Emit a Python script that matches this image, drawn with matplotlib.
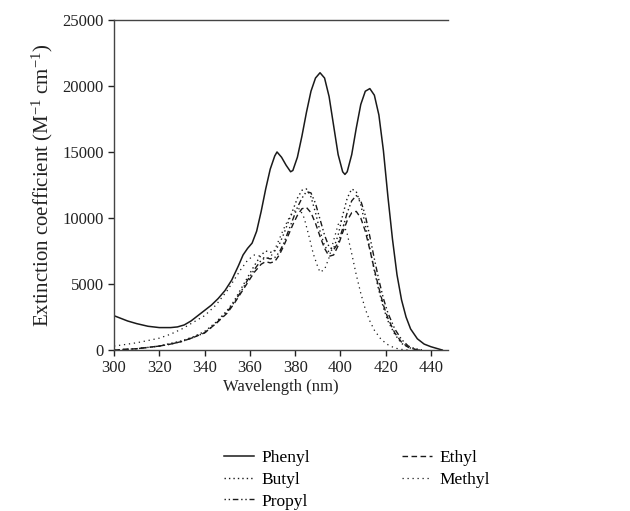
import matplotlib
matplotlib.use("Agg")
import matplotlib.pyplot as plt

plt.rcParams['font.family'] = ['Liberation Serif', 'DejaVu Serif']
plt.rcParams['mathtext.default'] = 'regular'

wl_phenyl = [300, 303, 306, 310, 315, 320, 325, 328, 331, 334, 337, 340, 343, 346, 349, 352, 355, 357, 359, 361,
             363, 365, 367, 369, 371, 372, 374, 376, 378, 379, 381, 383, 385, 387, 389, 391, 393, 395, 397, 399,
             401, 402, 403, 405, 407, 409, 411, 413, 415, 417, 419, 421, 423, 425, 427, 429, 431, 434, 437, 440,
             443, 445]
phenyl = [2600, 2400, 2200, 2000, 1800, 1700, 1700, 1750, 1900, 2200, 2600, 3000, 3400, 3900, 4500, 5300, 6400, 7200, 7700, 8100,
          9000, 10500, 12200, 13700, 14700, 15000, 14600, 14000, 13500, 13600, 14600, 16200, 18000, 19600, 20600, 21000, 20600, 19200, 17000, 14800,
          13500, 13300, 13500, 14800, 16800, 18600, 19600, 19800, 19300, 17800, 15100, 11600, 8400, 5700, 3800, 2500, 1600, 850, 450, 250,
          100, 0]

wl_methyl = [300, 305, 310, 315, 320, 325, 330, 335, 340, 345, 350, 353, 356, 359, 362, 365, 367, 369, 371, 373,
             375, 377, 379, 381, 382, 384, 386, 388, 390, 391, 393, 395, 397, 399, 400, 401, 403, 405, 407, 409,
             411, 413, 415, 418, 421, 424, 427, 430]
methyl = [300, 420, 550, 720, 900, 1200, 1600, 2100, 2600, 3400, 4500, 5300, 6100, 6800, 7200, 7100, 6900, 7000, 7600, 8400,
          9200, 9900, 10400, 10700, 10700, 10000, 8700, 7300, 6300, 5900, 6100, 7000, 8300, 9500, 9800, 9700, 8800, 7300, 5700, 4300,
          3100, 2200, 1500, 800, 400, 150, 50, 0]

wl_others = [300, 305, 310, 315, 320, 325, 330, 335, 340, 345, 350, 353, 356, 359, 362, 365,
             367, 369, 371, 373, 375, 377, 379, 381, 383, 385, 387, 389, 391, 393, 395, 397, 399, 401,
             403, 405, 407, 409, 411, 413, 415, 417, 419, 421, 424, 427, 430, 433, 436]
butyl = [0, 50, 100, 200, 300, 500, 700, 1000, 1400, 2100, 3000, 3700, 4600, 5500, 6400, 7200,
         7500, 7400, 7500, 8000, 8800, 9700, 10600, 11500, 12100, 12200, 11600, 10400, 9000, 7900, 7400, 7700, 8700, 10200,
         11500, 12200, 12000, 11000, 9500, 7700, 6000, 4500, 3200, 2200, 1200, 500, 200, 50, 0]
propyl = [0, 50, 100, 200, 300, 450, 650, 950, 1300, 2000, 2900, 3600, 4400, 5300, 6100, 6800,
          7000, 6900, 7000, 7400, 8100, 9000, 9900, 10800, 11500, 12000, 11900, 11100, 9900, 8700, 7800, 7600, 8100, 9200,
          10400, 11300, 11700, 11300, 10200, 8600, 6900, 5300, 3900, 2800, 1600, 800, 300, 100, 0]
ethyl = [0, 50, 100, 200, 300, 450, 650, 950, 1300, 2000, 2800, 3500, 4300, 5100, 5900, 6500,
         6700, 6600, 6700, 7200, 7900, 8700, 9500, 10200, 10700, 10800, 10400, 9600, 8600, 7700, 7100, 7200, 7900, 8900,
         9800, 10400, 10500, 10000, 9000, 7600, 6100, 4700, 3400, 2400, 1300, 600, 200, 50, 0]

fig = plt.figure(figsize=(6.30, 5.11), dpi=100)
ax = fig.add_axes([0.181, 0.315, 0.530, 0.646])

col = '#1a1a1a'
ax.plot(wl_phenyl, phenyl, color=col, lw=1.1, linestyle='-', label='Phenyl')
ax.plot(wl_others, butyl, color=col, lw=1.0, linestyle=(0, (1, 2.2)), label='Butyl')
ax.plot(wl_others, propyl, color=col, lw=1.0, linestyle=(0, (1, 2, 1, 2, 4, 2)), label='Propyl')
ax.plot(wl_others, ethyl, color=col, lw=1.0, linestyle=(0, (4, 2.5)), label='Ethyl')
ax.plot(wl_methyl, methyl, color=col, lw=0.9, linestyle=(0, (1, 3)), label='Methyl')

ax.set_xlim(300, 447.5)
ax.set_ylim(0, 25000)
ax.set_xticks([300, 320, 340, 360, 380, 400, 420, 440])
ax.set_yticks([0, 5000, 10000, 15000, 20000, 25000])
ax.spines['right'].set_visible(False)
for s in ['left', 'bottom', 'top']:
    ax.spines[s].set_color('#444444')
    ax.spines[s].set_linewidth(1.0)
ax.tick_params(axis='both', direction='out', length=4, width=1, labelsize=12, colors='#222222')
ax.tick_params(axis='x', top=False)
ax.set_xlabel('Wavelength (nm)', fontsize=12, color='#222222', labelpad=1.5)
ax.set_ylabel('Extinction coefficient (M$^{-1}$ cm$^{-1}$)', fontsize=15, color='#222222', labelpad=5)

handles, labels = ax.get_legend_handles_labels()
fig.legend(handles, labels, loc='upper left', bbox_to_anchor=(0.345, 0.133), ncol=2,
           frameon=False, fontsize=12.5, handlelength=1.7, handletextpad=0.45,
           columnspacing=5.3, labelspacing=0.32, borderaxespad=0)

fig.savefig('out.png', dpi=100)
